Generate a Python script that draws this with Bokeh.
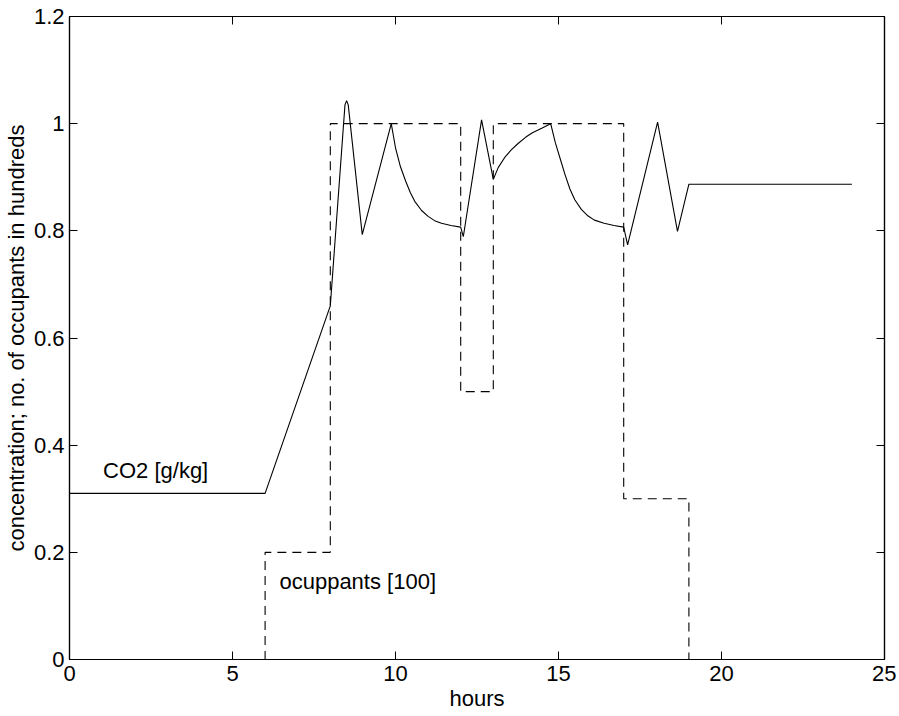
from bokeh.plotting import figure
from bokeh.models import Range1d, LinearAxis, FixedTicker, Label
from bokeh.embed import file_html
from bokeh.resources import INLINE

# ---- data ----
co2_hours = [0, 6, 8, 8.45, 8.5, 8.55, 8.98, 9.87, 10.0, 10.15, 10.31, 10.45,
             10.59, 10.8, 11.0, 11.2, 11.41, 11.7, 12.0,
             12.08, 12.64, 13.0, 13.15, 13.35, 13.55, 13.76, 14.0, 14.2, 14.5,
             14.76, 14.9, 15.05, 15.2, 15.35, 15.5, 15.7, 15.9, 16.1, 16.4,
             16.7, 17.0, 17.12, 18.04, 18.65, 19.0, 24.0]
co2_values = [0.31, 0.31, 0.66, 1.035, 1.043, 1.035, 0.793, 1.0, 0.955, 0.92,
              0.893, 0.872, 0.855, 0.838, 0.827, 0.819, 0.814, 0.81, 0.807,
              0.789, 1.007, 0.896, 0.918, 0.937, 0.951, 0.963, 0.975, 0.983,
              0.992, 1.0, 0.965, 0.935, 0.905, 0.878, 0.858, 0.84, 0.828,
              0.82, 0.814, 0.81, 0.807, 0.774, 1.003, 0.799, 0.887, 0.887]

occ_hours = [0, 6, 8, 12, 13, 17, 19, 24]
occ_values = [0, 0.2, 1, 0.5, 1, 0.3, 0, 0]

x_ticks = [0, 5, 10, 15, 20, 25]
x_tick_labels = ["0", "5", "10", "15", "20", "25"]
y_ticks = [0, 0.2, 0.4, 0.6, 0.8, 1.0, 1.2]
y_tick_labels = ["0", "0.2", "0.4", "0.6", "0.8", "1", "1.2"]

x_label = "hours"
y_label = "concentration; no. of occupants in hundreds"
co2_label = "CO2 [g/kg]"
occ_label = "ocuppants [100]"

FONT = "Liberation Sans"
FS = "22px"

p = figure(frame_width=815, frame_height=643,
           x_range=Range1d(0, 25), y_range=Range1d(0, 1.2),
           output_backend="svg", toolbar_location=None,
           min_border_left=68, min_border_right=12,
           min_border_top=16, min_border_bottom=53)

p.xgrid.visible = False
p.ygrid.visible = False
p.outline_line_color = "black"
p.outline_line_width = 1.2
p.background_fill_color = "white"
p.border_fill_color = "white"

def style_axis(ax, ticks, labels, show_labels=True):
    ax.ticker = FixedTicker(ticks=ticks)
    ax.major_label_overrides = {t: l for t, l in zip(ticks, labels)}
    ax.minor_tick_line_color = None
    ax.major_tick_in = 8
    ax.major_tick_out = 0
    ax.major_tick_line_color = "black"
    ax.axis_line_color = "black"
    ax.axis_line_width = 1.2
    ax.major_label_text_font = FONT
    ax.major_label_text_color = "black"
    if show_labels:
        ax.major_label_text_font_size = FS
    else:
        ax.major_label_text_font_size = "0px"
        ax.major_label_standoff = 0

style_axis(p.xaxis[0], x_ticks, x_tick_labels)
style_axis(p.yaxis[0], y_ticks, y_tick_labels)
p.xaxis[0].major_label_standoff = 6
p.yaxis[0].major_label_standoff = 5

p.xaxis[0].axis_label = x_label
p.yaxis[0].axis_label = y_label
for ax in (p.xaxis[0], p.yaxis[0]):
    ax.axis_label_text_font = FONT
    ax.axis_label_text_font_size = FS
    ax.axis_label_text_font_style = "normal"
    ax.axis_label_text_color = "black"
p.xaxis[0].axis_label_standoff = 2
p.yaxis[0].axis_label_standoff = 2

top_ax = LinearAxis()
right_ax = LinearAxis()
style_axis(top_ax, x_ticks, x_tick_labels, show_labels=False)
style_axis(right_ax, y_ticks, y_tick_labels, show_labels=False)
p.add_layout(top_ax, "above")
p.add_layout(right_ax, "right")

p.line(co2_hours, co2_values, line_color="black", line_width=1.1)
p.step(occ_hours, occ_values, mode="after", line_color="black",
       line_width=1.1, line_dash="9 6")

p.add_layout(Label(x=1.03, y=0.353, text=co2_label, text_font=FONT,
                   text_font_size=FS, text_baseline="alphabetic",
                   text_color="black"))
p.add_layout(Label(x=6.44, y=0.146, text=occ_label, text_font=FONT,
                   text_font_size=FS, text_baseline="alphabetic",
                   text_color="black"))

open("out.html", "w").write(file_html(p, INLINE))
